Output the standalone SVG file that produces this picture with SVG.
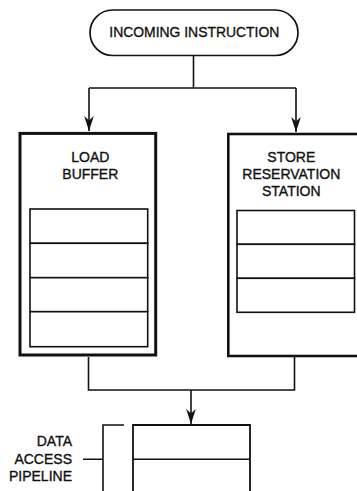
<svg xmlns="http://www.w3.org/2000/svg" width="357" height="491" viewBox="0 0 357 491">
  <defs>
    <style>
      .ln{fill:none;stroke:#111;stroke-width:1.6}
      .thick{fill:#fff;stroke:#111;stroke-width:3}
      .row{fill:#fff;stroke:#111;stroke-width:1.6}
      .t{font-family:"Liberation Sans",Arial,sans-serif;font-size:14px;fill:#111;stroke:#111;stroke-width:0.35;text-anchor:middle}
      .tr{font-family:"Liberation Sans",Arial,sans-serif;font-size:14px;fill:#111;stroke:#111;stroke-width:0.35;text-anchor:end}
    </style>
    <marker id="arr" markerUnits="userSpaceOnUse" markerWidth="16" markerHeight="12" viewBox="-15 -6 16 12" refX="0" refY="0" orient="auto">
      <path d="M0,0 L-15,-4.8 L-10.5,0 L-15,4.8 Z" fill="#111"/>
    </marker>
  </defs>
  <rect width="357" height="491" fill="#fff"/>

  <g id="connectors">
    <path class="ln" d="M193.5,56 V88"/>
    <path class="ln" d="M89,88 H296"/>
    <path class="ln" d="M89,88 V131" marker-end="url(#arr)"/>
    <path class="ln" d="M296,88 V132" marker-end="url(#arr)"/>
    <path class="ln" d="M88.5,357 V390 H294.5 V357"/>
    <path class="ln" d="M191,390 V424" marker-end="url(#arr)"/>
    <path class="ln" d="M83,459.3 H103 M103,491 V425 H124"/>
  </g>

  <g id="incoming-instruction">
    <rect x="90" y="10" width="208" height="45.5" rx="22.7" ry="22.7" fill="#fff" stroke="#111" stroke-width="1.7"/>
    <text class="t" x="194.3" y="37" textLength="170" lengthAdjust="spacingAndGlyphs" style="font-size:15px">INCOMING INSTRUCTION</text>
  </g>

  <g id="load-buffer">
    <rect class="thick" x="20" y="133.4" width="135.7" height="221.6"/>
    <text class="t" x="90.3" y="161.7">LOAD</text>
    <text class="t" x="90.3" y="179">BUFFER</text>
    <rect class="row" x="30" y="209" width="117.7" height="34.3"/>
    <rect class="row" x="30" y="243.3" width="117.7" height="34.4"/>
    <rect class="row" x="30" y="277.7" width="117.7" height="34"/>
    <rect class="row" x="30" y="311.7" width="117.7" height="35"/>
  </g>

  <g id="store-reservation-station">
    <rect class="thick" x="228.3" y="134" width="133" height="222" style="stroke-width:2.6"/>
    <text class="t" x="291.3" y="162.3">STORE</text>
    <text class="t" x="291.3" y="179.3">RESERVATION</text>
    <text class="t" x="291.3" y="196.3">STATION</text>
    <rect class="row" x="237" y="210.5" width="117.5" height="33.8"/>
    <rect class="row" x="237" y="244.3" width="117.5" height="34"/>
    <rect class="row" x="237" y="278.3" width="117.5" height="34"/>
  </g>

  <g id="data-access-pipeline">
    <text class="tr" x="72" y="446">DATA</text>
    <text class="tr" x="72" y="463.5">ACCESS</text>
    <text class="tr" x="72" y="481">PIPELINE</text>
    <path class="ln" d="M133,493 V425 H250 V493" style="stroke-width:1.8"/>
    <path class="ln" d="M133,459.3 H250"/>
  </g>
</svg>
